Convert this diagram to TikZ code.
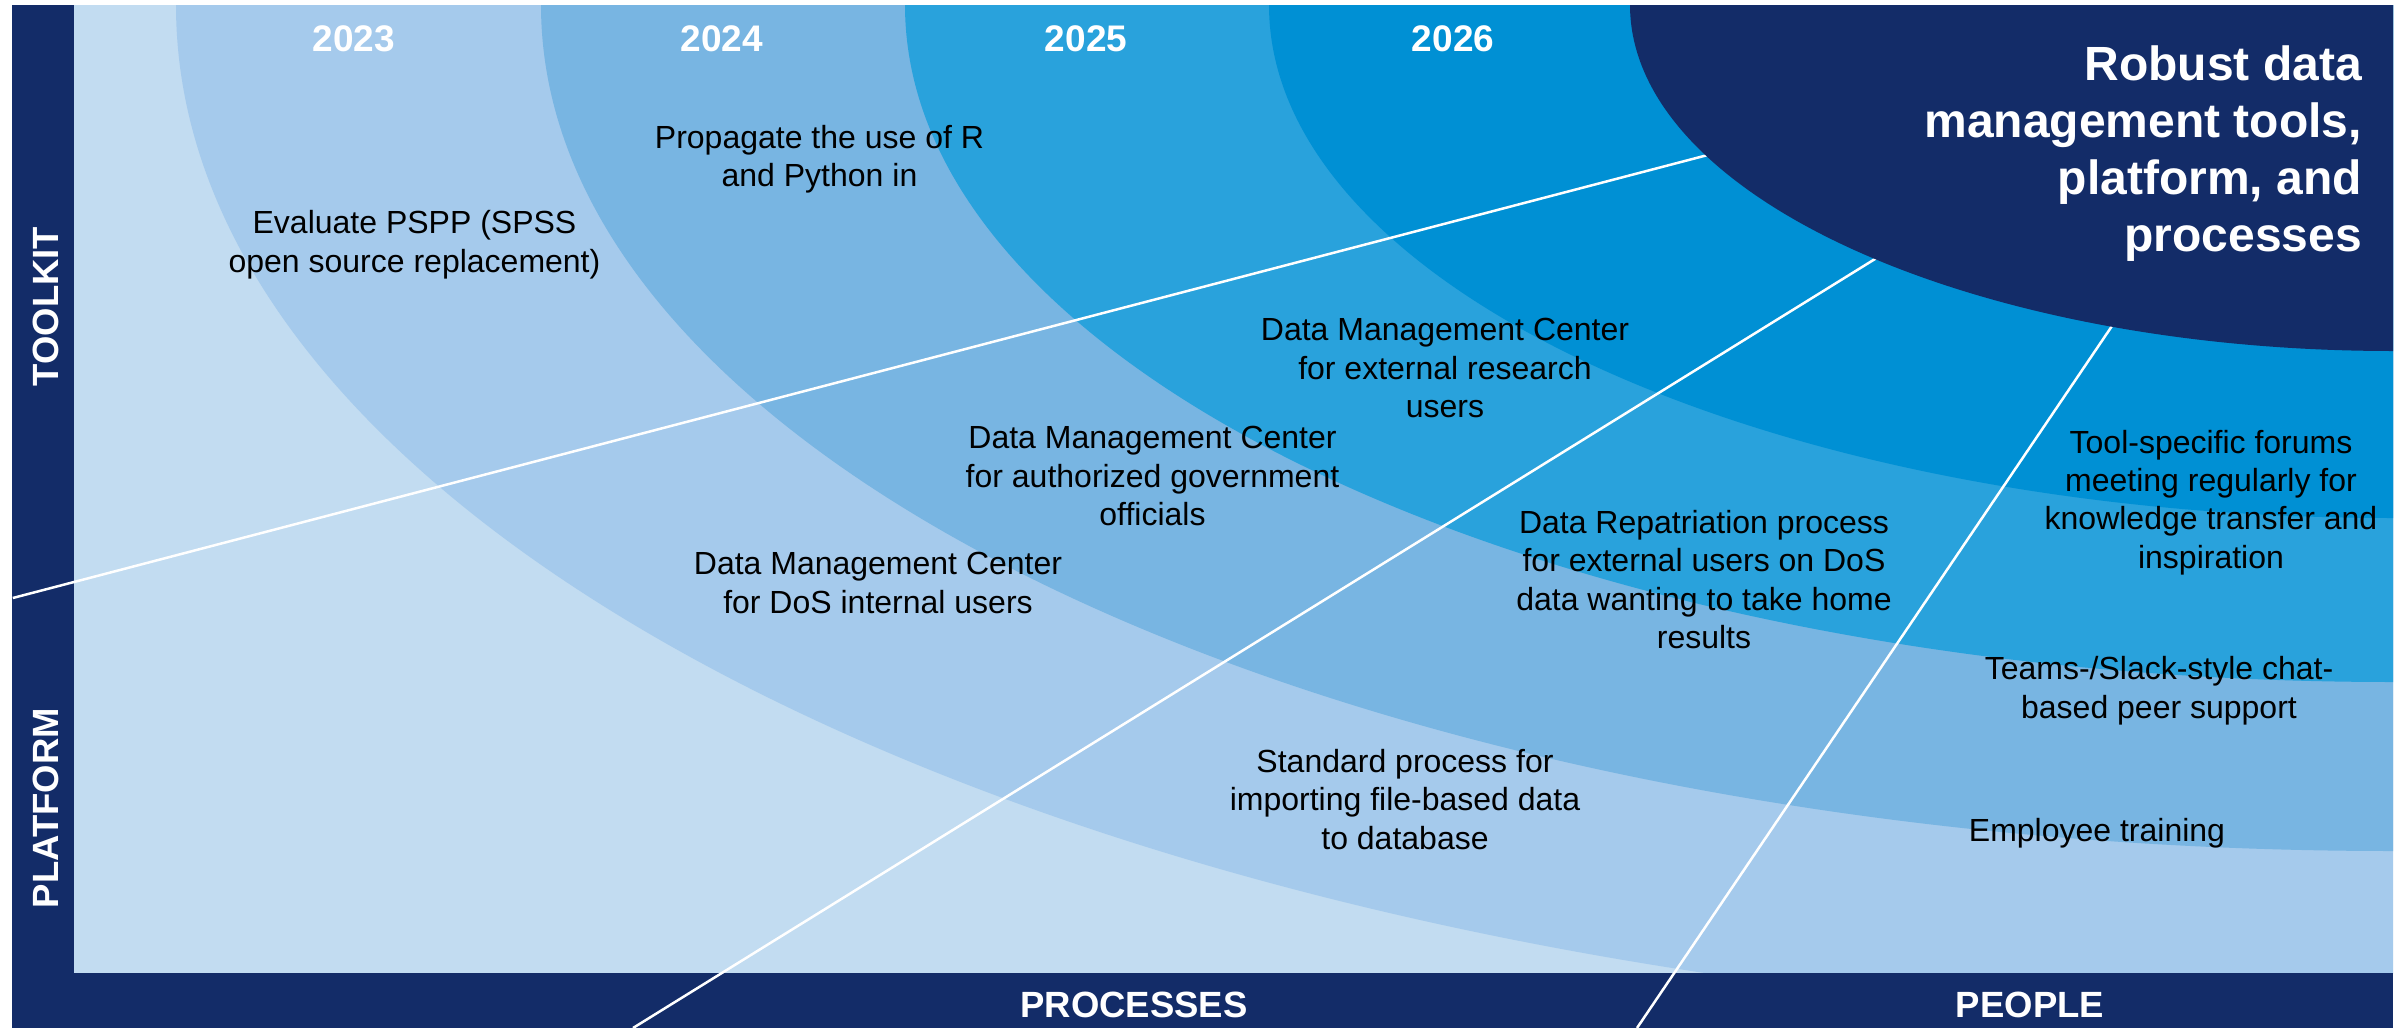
\documentclass[tikz,border=0pt]{standalone}
\usepackage{fontspec}
\setmainfont{Liberation Sans}
\definecolor{navy}{RGB}{19,44,104}
\definecolor{ringzero}{RGB}{194,220,241}
\definecolor{ringone}{RGB}{165,202,236}
\definecolor{ringtwo}{RGB}{120,181,226}
\definecolor{ringthree}{RGB}{41,162,220}
\definecolor{ringfour}{RGB}{0,144,212}
\tikzset{
  bodytext/.style={font=\fontsize{32}{38.3}\selectfont, align=center, anchor=base, inner sep=0pt, text=black},
  yearlbl/.style={font=\fontsize{37}{44}\selectfont\bfseries, anchor=base, inner sep=0pt, text=white},
  axislbl/.style={font=\fontsize{36.5}{43}\selectfont\bfseries, inner sep=0pt, text=white},
  titlelbl/.style={font=\fontsize{48}{57}\selectfont\bfseries, align=right, anchor=base east, inner sep=0pt, text=white},
  divider/.style={draw=white, line width=2.5pt},
}
\begin{document}
\begin{tikzpicture}[x=1pt,y=-1pt]
\useasboundingbox (0,0) rectangle (2403,1028);
\fill[white] (0,0) rectangle (2403,1028);
\coordinate (C) at (2393,5);
% rings
\begin{scope}
\clip (74,5) rectangle (2393,973);
\fill[ringzero] (74,5) rectangle (2393,973);
\fill[ringone] (C) ellipse [x radius=2217pt, y radius=1018pt];
\fill[ringtwo] (C) ellipse [x radius=1852pt, y radius=846pt];
\fill[ringthree] (C) ellipse [x radius=1488pt, y radius=677pt];
\fill[ringfour] (C) ellipse [x radius=1124pt, y radius=513pt];
\end{scope}
% frame
\fill[navy] (12,5) rectangle (74,1028);
\fill[navy] (12,973) rectangle (2393,1028);
% divider lines
\coordinate (l1a) at (12.8,598);
\coordinate (l1b) at (1720,151.8);
\coordinate (l2a) at (633,1028);
\coordinate (l2b) at (1885,252.8);
\coordinate (l3a) at (1637,1028);
\coordinate (l3b) at (2119.4,315);
\draw[divider] (l1a) -- (l1b);
\draw[divider] (l2a) -- (l2b);
\draw[divider] (l3a) -- (l3b);
% goal ellipse
\begin{scope}
\clip (74,5) rectangle (2393,973);
\fill[navy] (C) ellipse [x radius=763pt, y radius=346pt];
\end{scope}
% years
\node[yearlbl] (y23) at (354,51.8) {2023};
\node[yearlbl] (y24) at (722,51.8) {2024};
\node[yearlbl] (y25) at (1086,51.8) {2025};
\node[yearlbl] (y26) at (1453,51.8) {2026};
% axis labels
\node[axislbl, rotate=90] (toolkit) at (46,306.5) {TOOLKIT};
\node[axislbl, rotate=90] (platform) at (46,808) {PLATFORM};
\node[axislbl] (processes) at (1134,1005) {PROCESSES};
\node[axislbl] (people) at (2030,1005) {PEOPLE};
% title
\node[titlelbl] (goal) at (2362,251.5) {Robust data\\management tools,\\platform, and\\processes};
% items
\node[bodytext] (pspp) at (414.5,272) {Evaluate PSPP (SPSS\\open source replacement)};
\node[bodytext] (rpy) at (819.5,186.5) {Propagate the use of R\\and Python in};
\node[bodytext] (dmcext) at (1445,417.5) {Data Management Center\\for external research\\users};
\node[bodytext] (dmcgov) at (1152.5,525.5) {Data Management Center\\for authorized government\\officials};
\node[bodytext] (dmcdos) at (878,613) {Data Management Center\\for DoS internal users};
\node[bodytext] (repat) at (1704,648.5) {Data Repatriation process\\for external users on DoS\\data wanting to take home\\results};
\node[bodytext] (import) at (1405,849) {Standard process for\\importing file-based data\\to database};
\node[bodytext] (forums) at (2211,568) {Tool-specific forums\\meeting regularly for\\knowledge transfer and\\inspiration};
\node[bodytext] (chat) at (2159,718) {Teams-/Slack-style chat-\\based peer support};
\node[bodytext] (train) at (2097,841) {Employee training};
\end{tikzpicture}
\end{document}
